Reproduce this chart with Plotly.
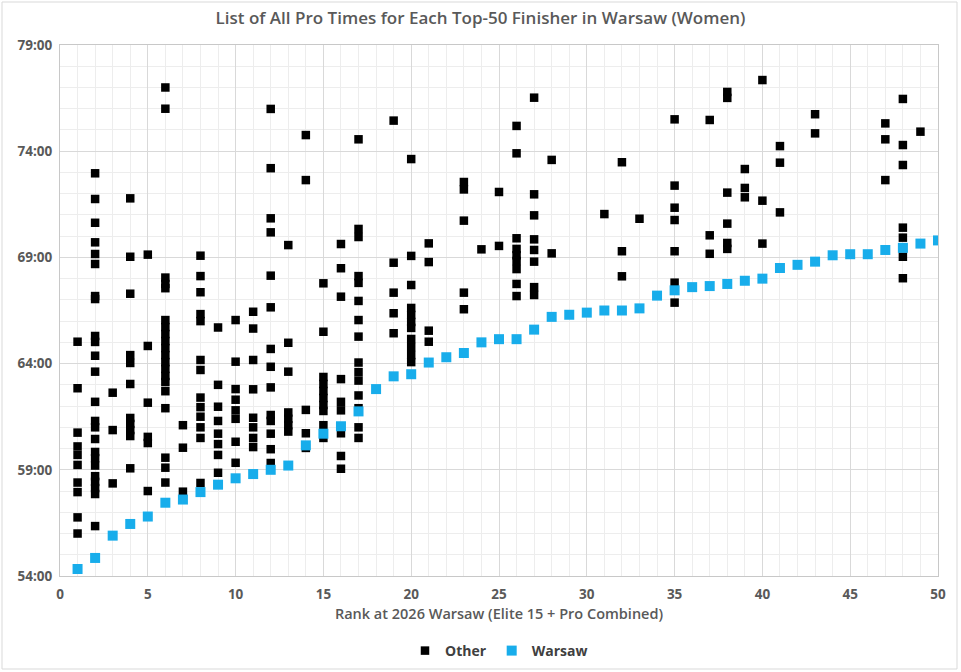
import plotly.graph_objects as go

# ---- data (times in minutes) ----
warsaw_rank = list(range(1, 51))
warsaw_time = [54.33, 54.85, 55.9, 56.45, 56.8, 57.45, 57.6, 57.95, 58.3, 58.6,
               58.8, 59.0, 59.2, 60.15, 60.7, 61.05, 61.75, 62.8, 63.4, 63.5,
               64.05, 64.3, 64.5, 65.0, 65.15, 65.15, 65.6, 66.2, 66.3, 66.4,
               66.5, 66.5, 66.6, 67.2, 67.45, 67.6, 67.65, 67.75, 67.9, 68.0,
               68.5, 68.65, 68.8, 69.1, 69.15, 69.15, 69.35, 69.45, 69.65, 69.8]

other_rank = (
    [1] * 10 + [2] * 24 + [3] * 3 + [4] * 11 + [5] * 6 + [6] * 20 + [7] * 3 +
    [8] * 13 + [9] * 8 + [10] * 8 + [11] * 8 + [12] * 14 + [13] * 7 + [14] * 5 +
    [15] * 10 + [16] * 9 + [17] * 15 + [19] * 5 + [20] * 11 + [21] * 4 +
    [23] * 5 + [24] * 1 + [25] * 2 + [26] * 9 + [27] * 8 + [28] * 2 + [31] * 1 +
    [32] * 3 + [33] * 1 + [35] * 7 + [37] * 3 + [38] * 6 + [39] * 3 + [40] * 3 +
    [41] * 3 + [43] * 2 + [47] * 3 + [48] * 8 + [49] * 1
)
other_time = (
    [65.03, 62.84, 60.75, 60.1, 59.7, 59.23, 58.4, 57.95, 56.76, 56.0] +
    [72.96, 71.75, 70.63, 69.71, 69.16, 68.69, 67.18, 67.04, 65.3, 65.02, 64.37, 63.62,
     62.2, 61.3, 61.0, 60.45, 59.84, 59.55, 59.2, 58.7, 58.43, 58.14, 57.86, 56.35] +
    [62.63, 60.87, 58.36] +
    [71.78, 69.03, 67.29, 64.4, 64.03, 63.04, 61.44, 61.16, 60.87, 60.59, 59.07] +
    [69.13, 64.83, 62.16, 60.55, 60.26, 58.0] +
    [77.0, 76.0, 68.05, 67.75, 67.55, 66.05, 65.72, 65.39, 65.06, 64.73, 64.4, 64.07,
     63.75, 63.42, 63.13, 62.7, 61.9, 59.57, 59.1, 58.4] +
    [61.1, 60.04, 57.97] +
    [69.08, 68.12, 67.36, 66.33, 66.0, 64.17, 63.7, 62.4, 61.95, 61.5, 61.0, 60.5, 58.38] +
    [65.7, 63.0, 61.97, 61.3, 60.7, 60.21, 59.7, 58.86] +
    [66.05, 64.09, 62.8, 62.3, 61.8, 61.4, 60.32, 59.33] +
    [66.44, 65.65, 64.17, 62.79, 61.45, 61.0, 60.5, 60.07] +
    [75.99, 73.2, 70.84, 70.18, 68.14, 66.65, 64.69, 63.85, 62.88, 61.58, 61.3, 60.7,
     59.97, 59.32] +
    [69.58, 64.98, 63.62, 61.7, 61.4, 61.1, 60.8] +
    [74.76, 72.64, 61.82, 60.72, 60.03] +
    [67.78, 65.5, 63.37, 63.04, 62.71, 62.38, 62.05, 61.77, 61.1, 60.5] +
    [69.63, 68.49, 67.15, 63.27, 62.2, 61.8, 60.72, 59.65, 59.05] +
    [74.56, 70.34, 69.96, 68.12, 67.8, 66.95, 66.05, 65.27, 64.05, 63.6, 63.2, 62.5,
     61.9, 61.0, 60.5] +
    [75.44, 68.75, 67.34, 66.37, 65.43] +
    [73.63, 69.07, 67.7, 66.62, 66.29, 65.96, 65.68, 65.16, 64.78, 64.4, 64.07] +
    [69.66, 68.78, 65.55, 65.03] +
    [72.55, 72.2, 70.73, 67.34, 66.56] +
    [69.38] +
    [72.08, 69.54] +
    [75.19, 73.9, 69.9, 69.4, 69.1, 68.83, 68.45, 67.75, 67.18] +
    [76.52, 71.97, 70.98, 69.85, 69.35, 68.8, 67.6, 67.23] +
    [73.59, 69.19] +
    [71.04] +
    [73.48, 69.29, 68.11] +
    [70.82] +
    [75.5, 72.38, 71.34, 70.76, 69.29, 67.81, 66.87] +
    [75.47, 70.04, 69.17] +
    [76.79, 76.51, 72.05, 70.59, 69.68, 69.4] +
    [73.16, 72.27, 71.83] +
    [77.35, 71.67, 69.65] +
    [74.24, 73.46, 71.12] +
    [75.74, 74.84] +
    [75.31, 74.56, 72.64] +
    [76.46, 74.29, 73.35, 70.4, 69.93, 69.45, 69.03, 68.02] +
    [74.92]
)

y_tick_vals = [54, 59, 64, 69, 74, 79]
y_tick_text = ["54:00", "59:00", "64:00", "69:00", "74:00", "79:00"]
x_tick_vals = [0, 5, 10, 15, 20, 25, 30, 35, 40, 45, 50]

FONT = "Open Sans"
TXT = "#595959"

fig = go.Figure()
fig.add_trace(go.Scatter(
    x=other_rank, y=other_time, mode="markers", name="Other",
    marker=dict(symbol="square", size=8.5, color="#000000", line=dict(width=0)),
))
fig.add_trace(go.Scatter(
    x=warsaw_rank, y=warsaw_time, mode="markers", name="Warsaw",
    marker=dict(symbol="square", size=10, color="#18ADEB", line=dict(width=0)),
))

fig.update_layout(
    width=961, height=672,
    paper_bgcolor="white", plot_bgcolor="white",
    margin=dict(l=60, r=23, t=45, b=96, autoexpand=False),
    font=dict(family=FONT, color=TXT, size=13),
    title=dict(text="List of All Pro Times for Each Top-50 Finisher in Warsaw (Women)",
               x=0.5, xanchor="center", y=1 - 18 / 672, yanchor="middle",
               yref="container", font=dict(family=FONT, size=17, color=TXT, weight=600)),
    showlegend=True,
    legend=dict(orientation="h", x=0.5, xanchor="center", y=-75 / 531, yanchor="middle",
                font=dict(family=FONT, size=14, color="#404040", weight=700),
                itemwidth=30, tracegroupgap=0),
    shapes=[dict(type="rect", xref="paper", yref="paper",
                 x0=-58 / 878, x1=897 / 878, y0=-93 / 531, y1=574 / 531,
                 line=dict(color="#d9d9d9", width=1), fillcolor="rgba(0,0,0,0)",
                 layer="below")],
)

fig.update_xaxes(
    range=[0, 50], tickvals=x_tick_vals, ticks="", showgrid=True,
    gridcolor="#d9d9d9", gridwidth=1, automargin=False, ticklabelstandoff=6,
    minor=dict(dtick=1, showgrid=True, gridcolor="#ededed", gridwidth=1),
    showline=True, linecolor="#c8c8c8", linewidth=1, mirror=True, zeroline=False,
    tickfont=dict(family=FONT, size=13.5, color=TXT, weight=700),
    title=dict(text="Rank at 2026 Warsaw (Elite 15 + Pro Combined)",
               font=dict(family=FONT, size=14.5, color=TXT, weight=600), standoff=6),
)
fig.update_yaxes(
    range=[54, 79], tickvals=y_tick_vals, ticktext=y_tick_text, ticks="",
    showgrid=True, gridcolor="#d9d9d9", gridwidth=1, automargin=False,
    ticklabelstandoff=4,
    minor=dict(dtick=1, showgrid=True, gridcolor="#ededed", gridwidth=1),
    showline=True, linecolor="#c8c8c8", linewidth=1, mirror=True, zeroline=False,
    tickfont=dict(family=FONT, size=13.5, color=TXT, weight=700),
)

fig.write_html("out.html", config={"displayModeBar": False},
               post_script="document.body.style.margin='0';")
